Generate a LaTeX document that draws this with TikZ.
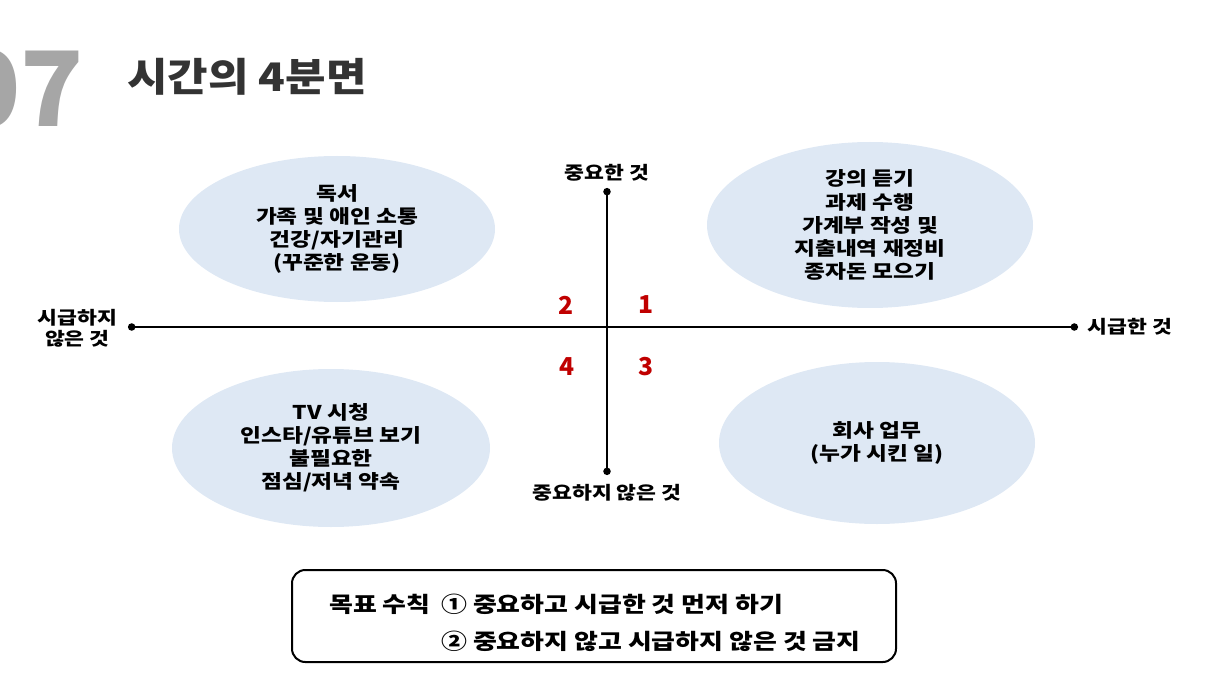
\documentclass[tikz,border=0pt]{standalone}
\usepackage{fontspec}
\setmainfont{Noto Sans CJK KR}[FakeStretch=1.2]
\newfontfamily\titlefont{Noto Sans CJK KR}[FakeStretch=1.12]
\newfontfamily\numfont{Noto Sans CJK KR}
\usepackage{tikz}
\usetikzlibrary{shapes.geometric, arrows.meta, positioning, calc}
\usepackage{xcolor}
\definecolor{quadfill}{HTML}{DEE8F4}
\definecolor{quadred}{HTML}{C00000}
\definecolor{titlegray}{HTML}{A6A6A6}
\definecolor{titledark}{HTML}{333333}

\tikzset{
  quad/.style={ellipse, fill=quadfill, draw=none, align=center,
               font=\fontsize{14.2}{17.3}\selectfont\bfseries, inner sep=0pt},
  axislabel/.style={align=center, font=\fontsize{13.5}{17}\selectfont\bfseries, inner sep=0pt},
  quadnum/.style={text=quadred, font=\numfont\fontsize{18.5}{20}\selectfont\bfseries, inner sep=0pt},
  rule/.style={anchor=west, font=\fontsize{16.2}{18}\selectfont\bfseries, inner sep=0pt}
}

\begin{document}
\begin{tikzpicture}[x=0.75pt, y=-0.75pt]
\useasboundingbox (0,0) rectangle (1216,684);

% title
\node[anchor=east, text=titlegray, font=\numfont\fontsize{78}{80}\selectfont\bfseries, inner sep=0pt]
  (secnum) at (84,89) {07};
\node[anchor=west, text=titledark, font=\titlefont\fontsize{29.5}{32}\selectfont\bfseries, inner sep=0pt]
  (title) at (127,77) {시간의 4분면};

% quadrant ellipses
\node[quad, minimum width=316*0.75pt, minimum height=146*0.75pt] (q2) at (337,229)
  {독서\\가족 및 애인 소통\\건강/자기관리\\(꾸준한 운동)};
\node[quad, minimum width=326*0.75pt, minimum height=166*0.75pt] (q1) at (870,225)
  {강의 듣기\\과제 수행\\가계부 작성 및\\지출내역 재정비\\종자돈 모으기};
\node[quad, minimum width=318*0.75pt, minimum height=158*0.75pt] (q4) at (331,448)
  {TV 시청\\인스타/유튜브 보기\\불필요한\\점심/저녁 약속};
\node[quad, minimum width=316*0.75pt, minimum height=162*0.75pt] (q3) at (877,443)
  {회사 업무\\(누가 시킨 일)};

% axes
\coordinate (west) at (128,327);
\coordinate (east) at (1078,327);
\coordinate (north) at (607,188);
\coordinate (south) at (607,475);
\draw[line width=1.8pt, {Circle[length=5.5pt]}-{Circle[length=5.5pt]}] (west) -- (east);
\draw[line width=1.8pt, {Circle[length=5.5pt]}-{Circle[length=5.5pt]}] (north) -- (south);

\node[axislabel, above=5pt of north] (imp) {중요한 것};
\node[axislabel, below=7pt of south] (notimp) {중요하지 않은 것};
\node[axislabel, right=7pt of east] (urg) {시급한 것};
\node[axislabel, left=8pt of west, yshift=-1pt] (noturg) {시급하지\\[-1pt]않은 것};

% quadrant numbers
\node[quadnum] (n2) at (566,305) {2};
\node[quadnum] (n1) at (646,305) {1};
\node[quadnum] (n4) at (567,367) {4};
\node[quadnum] (n3) at (646,367) {3};

% rule box
\draw[line width=1.5pt, rounded corners=10pt] (292,570) rectangle (896,662);
\node[rule] (goal) at (329,604) {목표 수칙};
\node[rule] (rule1) at (441,604) {① 중요하고 시급한 것 먼저 하기};
\node[rule] (rule2) at (441,641) {② 중요하지 않고 시급하지 않은 것 금지};
\end{tikzpicture}
\end{document}
